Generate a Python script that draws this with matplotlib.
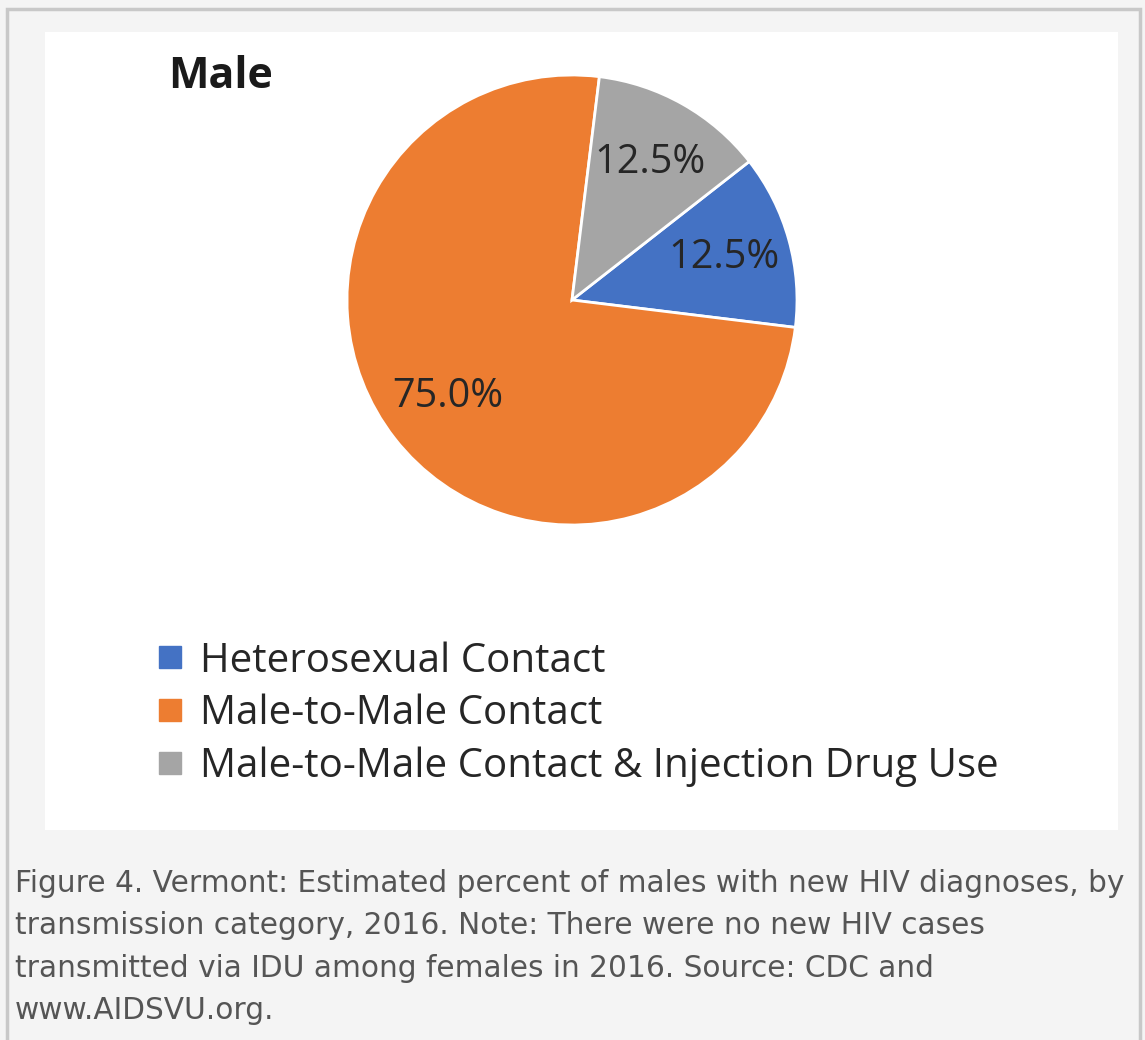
import matplotlib.pyplot as plt
from matplotlib.lines import Line2D
from matplotlib.patches import Rectangle

# data
categories = ['Heterosexual Contact', 'Male-to-Male Contact',
              'Male-to-Male Contact & Injection Drug Use']
shares = [12.5, 75.0, 12.5]
colors = ['#4472C4', '#ED7D31', '#A5A5A5']
title = 'Male'
caption = ('Figure 4. Vermont: Estimated percent of males with new HIV diagnoses, by\n'
           'transmission category, 2016. Note: There were no new HIV cases\n'
           'transmitted via IDU among females in 2016. Source: CDC and\n'
           'www.AIDSVU.org.')

W, H = 1145, 1040
fig = plt.figure(figsize=(W / 100, H / 100), dpi=100)
fig.patch.set_facecolor('#f4f4f4')

# outer border + white panel (behind the pie)
fig.add_artist(Rectangle((7 / W, -0.01), (1140 - 7) / W, (H - 9) / H + 0.01,
                         transform=fig.transFigure, fill=False,
                         edgecolor='#c8c8c8', linewidth=2.5, zorder=-2))
fig.add_artist(Rectangle((45 / W, 1 - 830 / H), (1118 - 45) / W, (830 - 32) / H,
                         transform=fig.transFigure, facecolor='white',
                         edgecolor='none', zorder=-1))

# pie
ax = fig.add_axes([347 / W, 1 - 525 / H, 450 / W, 450 / H])
ax.set_zorder(1)
ax.patch.set_visible(False)
wedges, texts, autotexts = ax.pie(
    shares, colors=colors, startangle=38, counterclock=False,
    autopct='%.1f%%', pctdistance=0.7,
    wedgeprops=dict(edgecolor='white', linewidth=2),
    textprops=dict(fontsize=28.5, color='#262626', family='Open Sans'))
ax.set_xlim(-1, 1)
ax.set_ylim(-1, 1)

fig.text(168 / W, 1 - 77 / H, title, fontsize=31, fontweight='bold',
         family='Open Sans', color='#1a1a1a', va='center', ha='left')

handles = [Line2D([], [], linestyle='none', marker='s', markersize=16,
                  markerfacecolor=c, markeredgecolor=c) for c in colors]
fig.legend(handles, categories, loc='upper left',
           bbox_to_anchor=(154 / W, 1 - 641 / H), frameon=False,
           prop=dict(family='Open Sans', size=29), labelcolor='#262626',
           handlelength=0.8, handletextpad=0.35, labelspacing=0.30,
           borderpad=0, borderaxespad=0)

fig.text(15 / W, 1 - 869 / H, caption, fontsize=21.3, color='#555555',
         family='DejaVu Sans', va='top', ha='left', linespacing=1.58)

fig.savefig('out.png', dpi=100, facecolor=fig.get_facecolor())
